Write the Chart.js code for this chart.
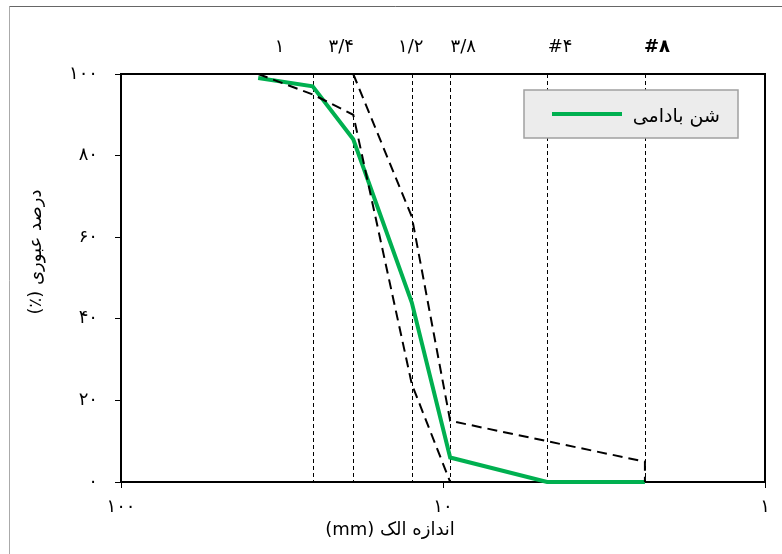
<!DOCTYPE html>
<html lang="fa">
<head>
    <meta charset="UTF-8">
    <title>Grading curve</title>
    <script src="https://cdn.jsdelivr.net/npm/chart.js"></script>
    <style>
        body { margin: 0; background: #fff; }
        #wrap { width: 782px; height: 554px; }
    </style>
</head>
<body>
<div id="wrap"><canvas id="gradingChart" width="782" height="554"></canvas></div>
<script>
    // sieve sizes (mm) and their names
    const sieveSizes = [25.4, 19, 12.5, 9.5, 4.75, 2.36];
    const sieveNames = ['۱', '۳/۴', '۱/۲', '۳/۸', '#۴', '#۸'];

    // sample gradation
    const sampleSizes = [37.5, 25.4, 19, 12.5, 9.5, 4.75, 2.36];
    const samplePassing = [99, 97, 84, 44, 6, 0, 0];

    // specification limits
    const upperSizes = [19, 12.5, 9.5, 4.75, 2.36, 2.36];
    const upperPassing = [100, 65, 15, 10, 5, 0];
    const lowerSizes = [37.5, 25.4, 19, 12.5, 9.5];
    const lowerPassing = [100, 95, 90, 24, 0];

    const xTicks = [1, 10, 100];
    const seriesLabel = 'شن بادامی';
    const green = '#00b050';
    const faFont = "'DejaVu Sans', sans-serif";

    const toFa = v => String(v).replace(/\d/g, d => '۰۱۲۳۴۵۶۷۸۹'[d]);
    const pts = (xs, ys) => xs.map((x, i) => ({ x: x, y: ys[i] }));

    // small nudges so the sieve names sit like in the original sheet
    const nameNudge = [-33, -12, -1, 13, 13, 12];

    const decorPlugin = {
        id: 'decor',
        beforeDraw(chart) {
            const ctx = chart.ctx;
            ctx.save();
            ctx.lineWidth = 1;
            ctx.strokeStyle = '#aaaaaa';
            ctx.beginPath();
            ctx.moveTo(9.5, 554);
            ctx.lineTo(9.5, 6.5);
            ctx.stroke();
            ctx.strokeStyle = '#666666';
            ctx.beginPath();
            ctx.moveTo(9.5, 6.5);
            ctx.lineTo(782, 6.5);
            ctx.stroke();
            ctx.restore();
        },
        beforeDatasetsDraw(chart) {
            const { ctx, chartArea: a, scales: { x } } = chart;
            ctx.save();
            // sieve lines
            ctx.strokeStyle = '#000';
            ctx.lineWidth = 1;
            ctx.setLineDash([4, 3]);
            sieveSizes.forEach(s => {
                const px = Math.round(x.getPixelForValue(s)) + 0.5;
                ctx.beginPath();
                ctx.moveTo(px, a.top);
                ctx.lineTo(px, a.bottom);
                ctx.stroke();
            });
            ctx.setLineDash([]);
            // box around plot
            ctx.lineWidth = 2;
            ctx.strokeRect(a.left, a.top, a.right - a.left, a.bottom - a.top);
            // sieve names on top
            ctx.fillStyle = '#000';
            ctx.textAlign = 'center';
            ctx.textBaseline = 'middle';
            sieveSizes.forEach((s, i) => {
                const bold = sieveNames[i] === '#۸';
                ctx.font = (bold ? 'bold ' : '') + '18px ' + faFont;
                ctx.fillText(sieveNames[i], x.getPixelForValue(s) + nameNudge[i], 47);
            });
            // axis titles
            ctx.direction = 'rtl';
            ctx.font = '18px ' + faFont;
            ctx.fillText('اندازه الک (mm)', 390, 530);
            ctx.save();
            ctx.translate(36, 252);
            ctx.rotate(-Math.PI / 2);
            ctx.fillText('درصد عبوری (٪)', 0, 0);
            ctx.restore();
            ctx.restore();
        },
        afterDatasetsDraw(chart) {
            const ctx = chart.ctx;
            ctx.save();
            ctx.fillStyle = '#ececec';
            ctx.fillRect(524, 90, 214, 48);
            ctx.strokeStyle = '#a0a0a0';
            ctx.lineWidth = 1.5;
            ctx.strokeRect(524, 90, 214, 48);
            ctx.strokeStyle = green;
            ctx.lineWidth = 4;
            ctx.beginPath();
            ctx.moveTo(552, 114);
            ctx.lineTo(622, 114);
            ctx.stroke();
            ctx.fillStyle = '#000';
            ctx.direction = 'rtl';
            ctx.textAlign = 'right';
            ctx.textBaseline = 'middle';
            ctx.font = '19px ' + faFont;
            ctx.fillText(seriesLabel, 720, 117);
            ctx.restore();
        }
    };

    new Chart(document.getElementById('gradingChart'), {
        type: 'line',
        data: {
            datasets: [
                {
                    label: 'upper',
                    data: pts(upperSizes, upperPassing),
                    borderColor: '#000',
                    borderWidth: 2,
                    borderDash: [10, 6],
                    pointRadius: 0,
                    fill: false,
                    clip: false
                },
                {
                    label: 'lower',
                    data: pts(lowerSizes, lowerPassing),
                    borderColor: '#000',
                    borderWidth: 2,
                    borderDash: [10, 6],
                    pointRadius: 0,
                    fill: false,
                    clip: false
                },
                {
                    label: seriesLabel,
                    data: pts(sampleSizes, samplePassing),
                    borderColor: green,
                    borderWidth: 4,
                    pointRadius: 0,
                    fill: false,
                    clip: false
                }
            ]
        },
        options: {
            responsive: false,
            animation: false,
            layout: { padding: { left: 0, right: 17, top: 74, bottom: 0 } },
            plugins: {
                legend: { display: false },
                tooltip: { enabled: false }
            },
            scales: {
                x: {
                    type: 'logarithmic',
                    min: 1,
                    max: 100,
                    reverse: true,
                    afterBuildTicks: scale => {
                        scale.ticks = xTicks.map(v => ({ value: v, major: true }));
                    },
                    afterFit: scale => { scale.height = 72; },
                    grid: { display: true, drawOnChartArea: false, drawTicks: true, tickLength: 6, color: '#000' },
                    border: { display: true, color: '#000', width: 2 },
                    ticks: {
                        color: '#000',
                        padding: 9,
                        maxRotation: 0,
                        autoSkip: false,
                        font: { family: faFont, size: 18 },
                        callback: v => toFa(v)
                    }
                },
                y: {
                    min: 0,
                    max: 100,
                    afterFit: scale => { scale.width = 121; },
                    grid: { display: true, drawOnChartArea: false, drawTicks: true, tickLength: 6, color: '#000' },
                    border: { display: true, color: '#000', width: 2 },
                    ticks: {
                        stepSize: 20,
                        color: '#000',
                        padding: 17,
                        font: { family: faFont, size: 18 },
                        callback: v => toFa(v)
                    }
                }
            }
        },
        plugins: [decorPlugin]
    });
</script>
</body>
</html>
